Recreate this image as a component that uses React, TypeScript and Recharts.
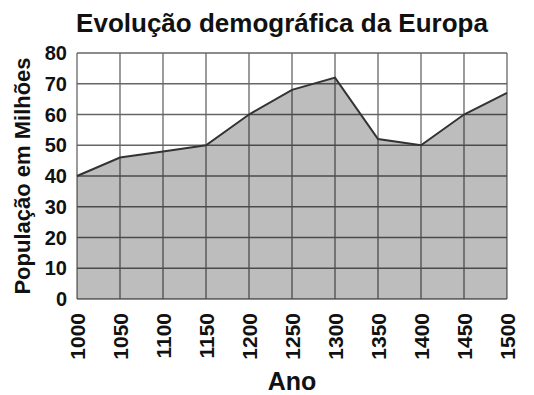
import React from 'react';
import { AreaChart, Area, XAxis, YAxis, CartesianGrid, Label } from 'recharts';

const years = [1000, 1050, 1100, 1150, 1200, 1250, 1300, 1350, 1400, 1450, 1500];
const population = [40, 46, 48, 50, 60, 68, 72, 52, 50, 60, 67];
const yTicks = [0, 10, 20, 30, 40, 50, 60, 70, 80];

const data = years.map((y, i) => ({ ano: String(y), pop: population[i] }));

const FONT = '"Liberation Sans", Arial, Helvetica, sans-serif';

const XTick = (props: any) => {
  const { x, y, payload } = props;
  return (
    <g transform={`translate(${x},${y})`}>
      <text
        transform="rotate(-90)"
        textAnchor="end"
        dy="0.36em"
        fontSize={21}
        fontWeight="bold"
        fontFamily={FONT}
        fill="#111"
      >
        {payload.value}
      </text>
    </g>
  );
};

export default function App() {
  return (
    <div style={{ position: 'absolute', left: 0, top: 0, width: 534, height: 395, background: '#fff' }}>
      <AreaChart
        width={534}
        height={395}
        data={data}
        margin={{ top: 53, right: 27, bottom: 0, left: 0 }}
      >
        <text x={282} y={32} textAnchor="middle" fontSize={26} fontWeight="bold" fontFamily={FONT} fill="#111">
          Evolução demográfica da Europa
        </text>
        <CartesianGrid stroke="#666" strokeWidth={1.3} />
        <XAxis
          dataKey="ano"
          tick={<XTick />}
          tickLine={false}
          axisLine={false}
          tickSize={0}
          tickMargin={14}
          interval={0}
          height={96}
        >
          <Label
            value="Ano"
            position="insideBottom"
            offset={5}
            style={{ fontSize: 25, fontWeight: 'bold', fontFamily: FONT, fill: '#111' }}
          />
        </XAxis>
        <YAxis
          domain={[0, 80]}
          ticks={yTicks}
          interval={0}
          width={77}
          tickLine={false}
          axisLine={false}
          tickSize={0}
          tickMargin={10}
          tick={{ fontSize: 20, fontWeight: 'bold', fontFamily: FONT, fill: '#111' }}
        >
          <Label
            value="População em Milhões"
            angle={-90}
            position="insideLeft"
            offset={22}
            style={{ textAnchor: 'middle', fontSize: 22, fontWeight: 'bold', fontFamily: FONT, fill: '#111' }}
          />
        </YAxis>
        <Area
          type="linear"
          dataKey="pop"
          stroke="#333"
          strokeWidth={2}
          fill="#000"
          fillOpacity={0.26}
          isAnimationActive={false}
          dot={false}
          activeDot={false}
        />
      </AreaChart>
    </div>
  );
}
